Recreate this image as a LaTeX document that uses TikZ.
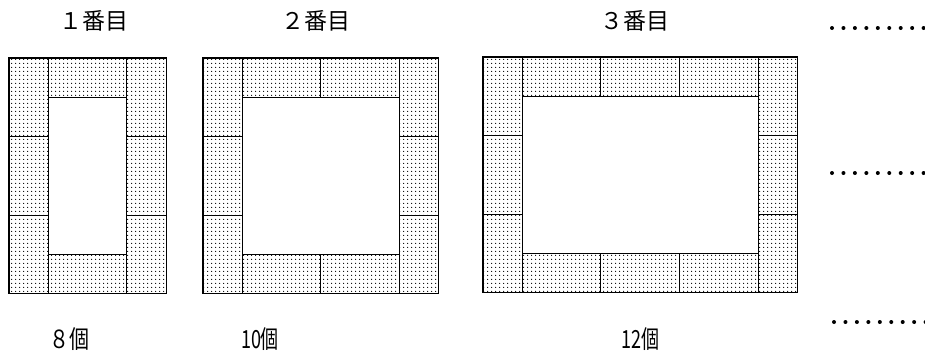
\documentclass[tikz,border=0pt]{standalone}
\usepackage{fontspec}
\newfontfamily\jp{Noto Sans CJK JP}
\usetikzlibrary{patterns.meta}
\tikzset{
  tile/.style={draw=black, line width=1.1pt, pattern={Dots[distance=4pt, radius=0.75pt]}, pattern color=black},
  toplab/.style={font=\jp\fontsize{23}{25}\selectfont, inner sep=0pt, anchor=center},
  botlab/.style={font=\jp\fontsize{25}{27}\selectfont, inner sep=0pt, anchor=center},
  elldot/.style={fill=black}
}
\newcommand\brickframe[3]{%
  \begin{scope}[shift={(#1,#2)}]
    \pgfmathsetmacro\rx{(2*#3+1)*\u}
    \foreach \k in {0,1,2}{
      \filldraw[tile] (0,{2*\k*\u}) rectangle ++(\u,{2*\u});
      \filldraw[tile] (\rx,{2*\k*\u}) rectangle ++(\u,{2*\u});
    }
    \foreach \k in {1,...,#3}{
      \filldraw[tile] ({(2*\k-1)*\u},0) rectangle ++({2*\u},\u);
      \filldraw[tile] ({(2*\k-1)*\u},{5*\u}) rectangle ++({2*\u},\u);
    }
  \end{scope}}
\begin{document}
\begin{tikzpicture}[x=1pt,y=-1pt]
  \def\u{39.3}
  \fill[white] (0,0) rectangle (925,354);
  \useasboundingbox (0,0) rectangle (925,354);
  % figures
  \brickframe{9}{58}{1}
  \brickframe{203}{58}{2}
  \brickframe{483}{57}{3}
  % labels
  \node[toplab] (t1) at (94,21) {１番目};
  \node[toplab] (t2) at (316,21) {２番目};
  \node[toplab] (t3) at (635,21) {３番目};
  \node[botlab] (c1) at (69,339) {\scalebox{0.8}[1]{８個}};
  \node[botlab] (c2) at (260,339) {\scalebox{0.72}[1]{10個}};
  \node[botlab] (c3) at (640,339) {\scalebox{0.72}[1]{12個}};
  % ellipses
  \coordinate (e1) at (832,28);
  \coordinate (e2) at (832,173);
  \coordinate (e3) at (834,322);
  \foreach \e in {e1,e2,e3}{
    \foreach \i in {0,...,8}{
      \fill[elldot,shift={(\e)}] ({\i*11.45},0) circle [radius=2pt];
    }
  }
\end{tikzpicture}
\end{document}
